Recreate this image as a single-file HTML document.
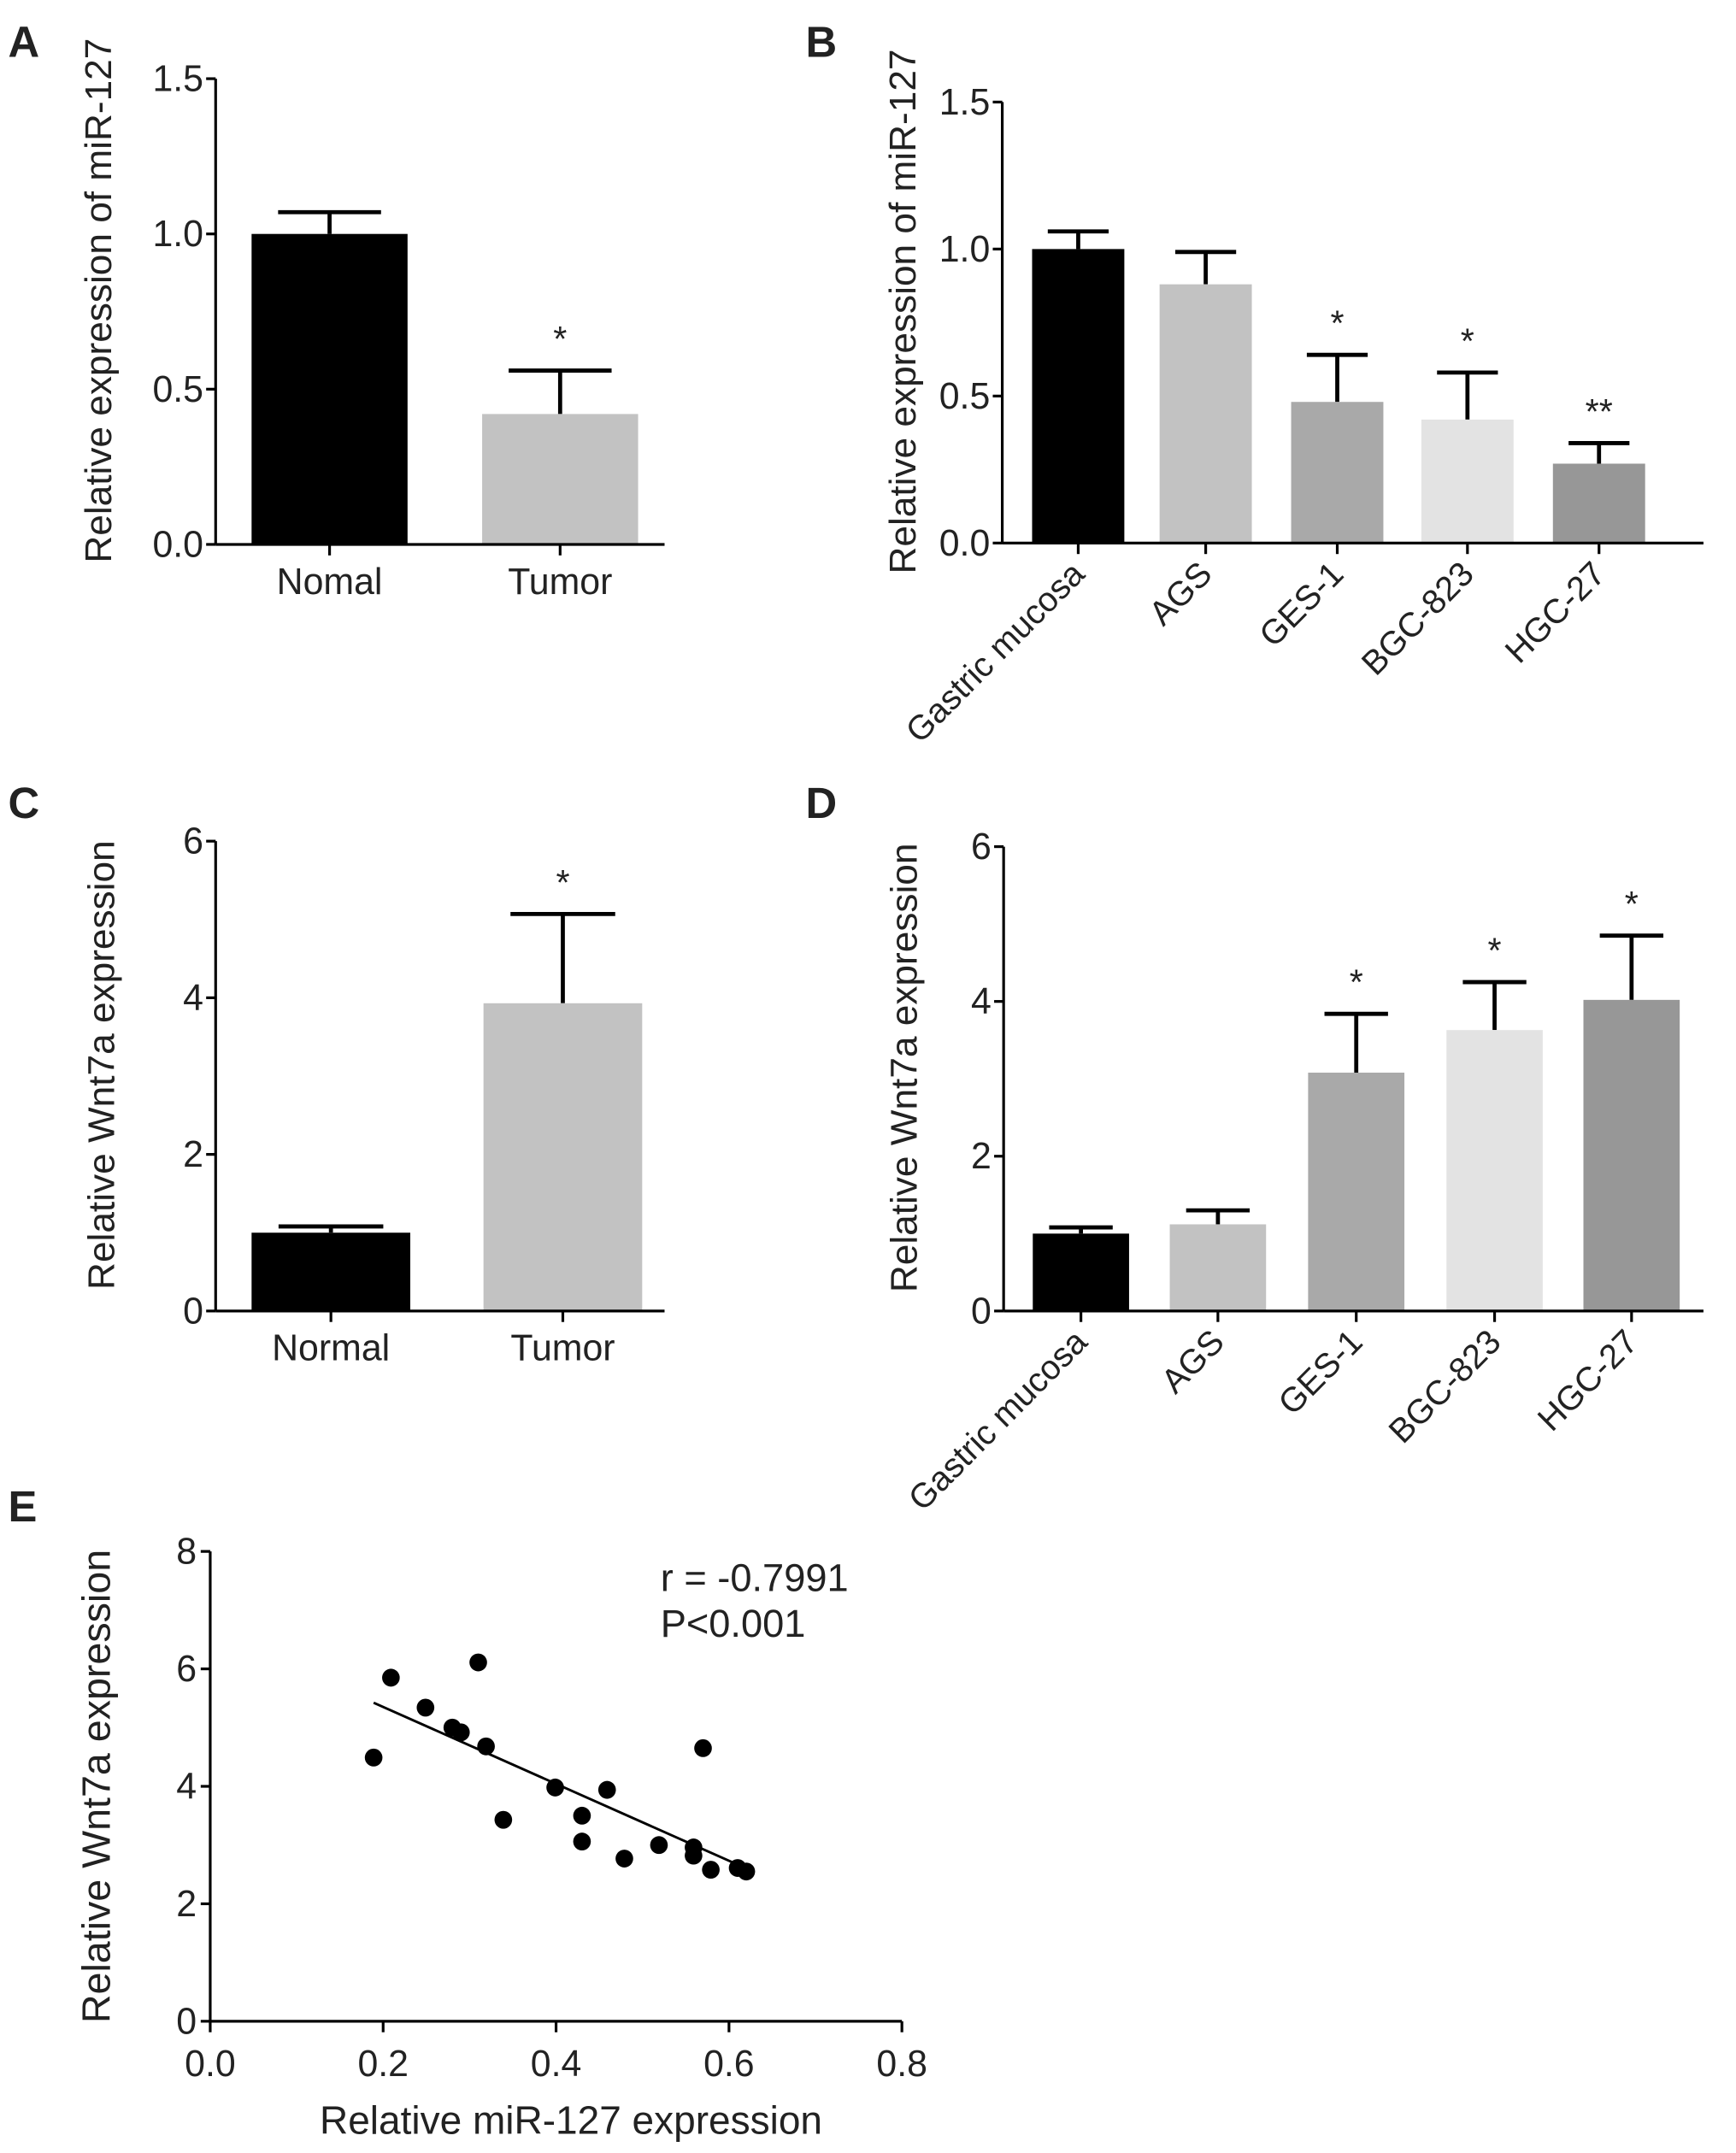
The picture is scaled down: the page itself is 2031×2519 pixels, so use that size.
<!DOCTYPE html>
<html><head><meta charset="utf-8"><style>
html,body{margin:0;padding:0;background:#fff}
svg{display:block}
text{font-family:"Liberation Sans",Arial,sans-serif;fill:#222}
</style></head><body>
<svg id="fig" width="2031" height="2519" viewBox="0 0 1280 1587.5" xmlns="http://www.w3.org/2000/svg">
<g id="root" transform="translate(0 58) scale(1 1.013) translate(0 -58)">
<text x="6" y="42" font-size="32" font-weight="bold">A</text>
<text x="594" y="42" font-size="32" font-weight="bold">B</text>
<text x="6" y="596" font-size="32" font-weight="bold">C</text>
<text x="594" y="596" font-size="32" font-weight="bold">D</text>
<text x="6" y="1108" font-size="32" font-weight="bold">E</text>
</g>
</svg>
<script>
const aCats=["Nomal","Tumor"];
const aVals=[1.0,0.42];
const aErr=[1.07,0.56];
const aStars=["","*"];
const aTicks=[0,0.5,1.0,1.5];
const bCats=["Gastric mucosa","AGS","GES-1","BGC-823","HGC-27"];
const bVals=[1.0,0.88,0.48,0.42,0.27];
const bErr=[1.06,0.99,0.64,0.58,0.34];
const bStars=["","","*","*","**"];
const cCats=["Normal","Tumor"];
const cVals=[1.0,3.93];
const cErr=[1.08,5.07];
const cStars=["","*"];
const cTicks=[0,2,4,6];
const dVals=[1.0,1.12,3.08,3.63,4.02];
const dErr=[1.08,1.3,3.84,4.25,4.85];
const dStars=["","","*","*","*"];
const eX=[0.189,0.209,0.249,0.28,0.29,0.31,0.319,0.339,0.399,0.43,0.43,0.459,0.479,0.519,0.559,0.559,0.57,0.579,0.61,0.62];
const eY=[4.49,5.85,5.34,5.0,4.92,6.11,4.68,3.43,3.98,3.5,3.06,3.94,2.77,3.0,2.96,2.82,4.65,2.58,2.61,2.55];
const eXTicks=[0,0.2,0.4,0.6,0.8];
const eYTicks=[0,2,4,6,8];

const NS="http://www.w3.org/2000/svg";
const svg=document.getElementById('root');
function mk(tag,attrs,parent){const e=document.createElementNS(NS,tag);for(const k in attrs)e.setAttribute(k,attrs[k]);(parent||svg).appendChild(e);return e;}
function txt(s,attrs,parent){const t=mk('text',attrs,parent);t.textContent=s;return t;}

function barPanel(o){
  const g=mk('g',{});
  
  
  const y=v=>o.y0-(v/o.ymax)*(o.y0-o.ytop);
  o.vals.forEach((v,i)=>{
    const cx=o.centers[i];
    const ev=mk('line',{x1:cx,x2:cx,y1:y(v),y2:y(o.err[i]),stroke:'#000','stroke-width':3},g);
    
    
    const cap=mk('line',{x1:cx-o.bw*0.33,x2:cx+o.bw*0.33,y1:y(o.err[i]),y2:y(o.err[i]),stroke:'#000','stroke-width':3},g);
    
    
    const r=mk('rect',{x:cx-o.bw/2,y:y(v),width:o.bw,height:o.y0-y(v),fill:o.colors[i]},g);
    
    
    if(o.stars[i]){
      const s=txt(o.stars[i],{x:cx,y:y(o.err[i])-o.starGap,'font-size':26,'text-anchor':'middle',fill:'#444'},g);
      
      
    }
  });
  const ya=mk('line',{x1:o.x0,x2:o.x0,y1:o.ytop,y2:o.y0,stroke:'#000','stroke-width':2},g);
  
  
  const xa=mk('line',{x1:o.x0,x2:o.xend,y1:o.y0,y2:o.y0,stroke:'#000','stroke-width':2},g);
  
  
  o.ticks.forEach((t,i)=>{
    mk('line',{x1:o.x0-7,x2:o.x0,y1:y(t),y2:y(t),stroke:'#000','stroke-width':2},g);
    const l=txt(o.tickFmt(t),{x:o.x0-9,y:y(t)+9,'font-size':27,'text-anchor':'end'},g);
    
    
  });
  o.cats.forEach((c,i)=>{
    const cx=o.centers[i];
    mk('line',{x1:cx,x2:cx,y1:o.y0,y2:o.y0+8,stroke:'#000','stroke-width':2},g);
    let l;
    if(o.rot){
      l=txt(c,{x:cx+6,y:o.y0+24,'font-size':25,'text-anchor':'end',transform:`rotate(-45 ${cx+6} ${o.y0+24})`},g);
    }else{
      l=txt(c,{x:cx,y:o.y0+36,'font-size':27,'text-anchor':'middle'},g);
    }
    
    
  });
  const tt=txt(o.title,{x:0,y:0,'font-size':27.5,'text-anchor':'middle',transform:`translate(${o.titleX} ${(o.ytop+o.y0)/2-8}) rotate(-90)`},g);
  
  
}
const greys=['#000','#c2c2c2','#a9a9a9','#e3e3e3','#979797'];
barPanel({name:'panel-a-chart',x0:159,xend:490,y0:397,ytop:58,ymax:1.5,centers:[243,413],bw:115,
  vals:aVals,err:aErr,stars:aStars,cats:aCats,ticks:aTicks,tickFmt:t=>t.toFixed(1),colors:['#000','#c2c2c2'],
  title:'Relative expression of miR-127',titleX:82,starGap:14,rot:false});
barPanel({name:'panel-b-chart',x0:739,xend:1256,y0:396,ytop:75,ymax:1.5,centers:[795,889,986,1082,1179],bw:68,
  vals:bVals,err:bErr,stars:bStars,cats:bCats,ticks:aTicks,tickFmt:t=>t.toFixed(1),colors:greys,
  title:'Relative expression of miR-127',titleX:675,starGap:14,rot:true});
barPanel({name:'panel-c-chart',x0:159,xend:490,y0:955,ytop:613,ymax:6,centers:[244,415],bw:117,
  vals:cVals,err:cErr,stars:cStars,cats:cCats,ticks:cTicks,tickFmt:t=>String(t),colors:['#000','#c2c2c2'],
  title:'Relative Wnt7a expression',titleX:84,starGap:14,rot:false});
barPanel({name:'panel-d-chart',x0:740,xend:1256,y0:955,ytop:617,ymax:6,centers:[797,898,1000,1102,1203],bw:71,
  vals:dVals,err:dErr,stars:dStars,cats:bCats,ticks:cTicks,tickFmt:t=>String(t),colors:greys,
  title:'Relative Wnt7a expression',titleX:676,starGap:14,rot:true});

(function(){
  const g=mk('g',{});
  
  
  const x0=155,x1=665,y0=1472,y1=1130;
  const sx=v=>x0+(v/0.8)*(x1-x0), sy=v=>y0-(v/8)*(y0-y1);
  const ya=mk('line',{x1:x0,x2:x0,y1:y1,y2:y0,stroke:'#000','stroke-width':2},g);
  
  
  const xa=mk('line',{x1:x0,x2:x1,y1:y0,y2:y0,stroke:'#000','stroke-width':2},g);
  
  
  eYTicks.forEach(t=>{
    mk('line',{x1:x0-7,x2:x0,y1:sy(t),y2:sy(t),stroke:'#000','stroke-width':2},g);
    const l=txt(String(t),{x:x0-10,y:sy(t)+9,'font-size':27,'text-anchor':'end'},g);
    
    
  });
  eXTicks.forEach(t=>{
    mk('line',{x1:sx(t),x2:sx(t),y1:y0,y2:y0+8,stroke:'#000','stroke-width':2},g);
    const l=txt(t.toFixed(1),{x:sx(t),y:y0+40,'font-size':27,'text-anchor':'middle'},g);
    
    
  });
  const n=eX.length,mx=eX.reduce((a,b)=>a+b)/n,my=eY.reduce((a,b)=>a+b)/n;
  let sxy=0,sxx=0;for(let i=0;i<n;i++){sxy+=(eX[i]-mx)*(eY[i]-my);sxx+=(eX[i]-mx)**2;}
  const b=sxy/sxx,a=my-b*mx;
  const xmin=Math.min(...eX),xmax=Math.max(...eX);
  const rl=mk('line',{x1:sx(xmin),y1:sy(a+b*xmin),x2:sx(xmax),y2:sy(a+b*xmax),stroke:'#000','stroke-width':1.8},g);
  
  
  eX.forEach((v,i)=>{
    const c=mk('circle',{cx:sx(v),cy:sy(eY[i]),r:6.5,fill:'#000'},g);
    
    
  });
  const r=txt('r = -0.7991',{x:487,y:1159,'font-size':28.5},g);
  
  
  const p=txt('P<0.001',{x:487,y:1192,'font-size':28.5},g);
  
  
  const xt=txt('Relative miR-127 expression',{x:421,y:1554,'font-size':29,'text-anchor':'middle'},g);
  
  
  const yt=txt('Relative Wnt7a expression',{x:0,y:0,'font-size':29,'text-anchor':'middle',transform:`translate(81 1301) rotate(-90)`},g);
  
  
})();
</script>
</body></html>
